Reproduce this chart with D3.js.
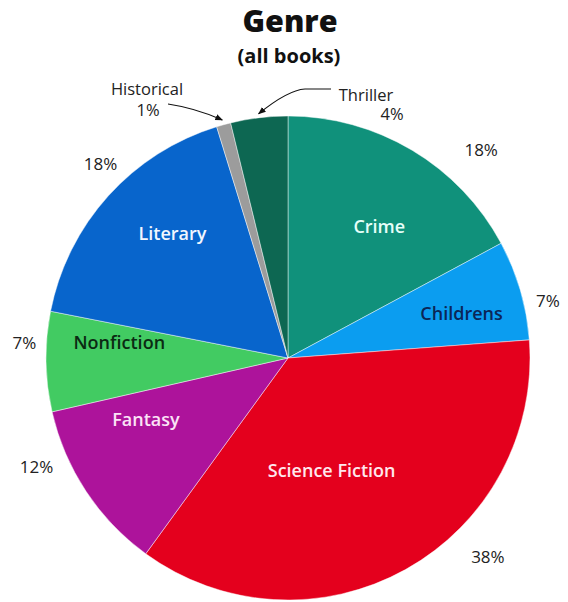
<!DOCTYPE html>
<html>
<head>
<meta charset="utf-8">
<script src="https://cdn.jsdelivr.net/npm/d3@7/dist/d3.min.js"></script>
<style>
  html, body { margin: 0; padding: 0; background: #fff; }
  svg { display: block; font-family: "Open Sans", Lato, sans-serif; }
</style>
</head>
<body>
<svg id="chart" width="568" height="602"></svg>
<script>
// Genre share of all books, clockwise from 12 o'clock
const genres = ["Crime", "Childrens", "Science Fiction", "Fantasy", "Nonfiction", "Literary", "Historical", "Thriller"];
const shares = [18, 7, 38, 12, 7, 18, 1, 4];
const colors = ["#10917b", "#0b9df0", "#e4001d", "#ad139b", "#42cb62", "#0865cc", "#9c9c9c", "#0d6752"];
const innerTextColors = ["#e6fff9", "#0b2657", "#ffe8ee", "#fbe3f6", "#0b2a12", "#f2f7ff", null, null];

const svg = d3.select("#chart");
const cx = 288, cy = 358, R = 242;

const data = genres.map((g, i) => ({ genre: g, value: shares[i], color: colors[i], textColor: innerTextColors[i] }));

const pie = d3.pie().value(d => d.value).sort(null).startAngle(0).endAngle(2 * Math.PI);
const arcs = pie(data);
const arc = d3.arc().innerRadius(0).outerRadius(R);

// Title
svg.append("text").attr("x", 290).attr("y", 32).attr("text-anchor", "middle")
  .attr("font-size", 30.5).attr("font-weight", 800).attr("fill", "#111").text("Genre");
svg.append("text").attr("x", 289).attr("y", 63).attr("text-anchor", "middle")
  .attr("font-size", 20).attr("font-weight", 700).attr("fill", "#111").text("(all books)");

const g = svg.append("g").attr("transform", `translate(${cx},${cy})`);

g.selectAll("path.slice").data(arcs).join("path")
  .attr("class", "slice")
  .attr("d", arc)
  .attr("fill", d => d.data.color)
  .attr("stroke", "rgba(255,255,255,0.45)")
  .attr("stroke-width", 1);

const polar = (angle, rad) => [rad * Math.sin(angle), -rad * Math.cos(angle)];
const mid = d => (d.startAngle + d.endAngle) / 2;
const deg = Math.PI / 180;

// Names inside the larger slices: radius fraction and angular nudge per slice
const innerPlace = { "Crime": [0.66, 4], "Childrens": [0.74, 2], "Science Fiction": [0.5, 8],
                     "Fantasy": [0.64, 10], "Nonfiction": [0.7, 6], "Literary": [0.7, 5] };
g.selectAll("text.name").data(arcs.filter(d => innerPlace[d.data.genre])).join("text")
  .attr("class", "name")
  .attr("transform", d => {
    const [f, n] = innerPlace[d.data.genre];
    const [x, y] = polar(mid(d) + n * deg, R * f);
    return `translate(${x},${y})`;
  })
  .attr("text-anchor", "middle").attr("dy", "0.35em")
  .attr("font-size", 18).attr("font-weight", 600)
  .attr("fill", d => d.data.textColor)
  .text(d => d.data.genre);

// Percentages around the rim
const outerPlace = { "Crime": [284, 12], "Childrens": [266, 4], "Science Fiction": [282, -16],
                     "Fantasy": [274, 10], "Nonfiction": [264, 4], "Literary": [270, 4] };
g.selectAll("text.pct").data(arcs.filter(d => outerPlace[d.data.genre])).join("text")
  .attr("class", "pct")
  .attr("transform", d => {
    const [rad, n] = outerPlace[d.data.genre];
    const [x, y] = polar(mid(d) + n * deg, rad);
    return `translate(${x},${y})`;
  })
  .attr("text-anchor", "middle").attr("dy", "0.35em")
  .attr("font-size", 17).attr("font-weight", 400).attr("fill", "#222")
  .text(d => d.data.value + "%");

// Callouts for the two thin slices
const defs = svg.append("defs");
defs.append("marker").attr("id", "head").attr("viewBox", "0 0 10 10")
  .attr("refX", 9).attr("refY", 5).attr("markerWidth", 7).attr("markerHeight", 7)
  .attr("orient", "auto-start-reverse")
  .append("path").attr("d", "M0,1 L10,5 L0,9 Z").attr("fill", "#111");

const hist = arcs.find(d => d.data.genre === "Historical");
const thr = arcs.find(d => d.data.genre === "Thriller");
const [hx, hy] = polar(mid(hist), R + 5);
const [tx, ty] = polar(mid(thr), R + 4);

const ann = svg.append("g").attr("font-size", 16.5).attr("fill", "#222");
ann.append("text").attr("x", 147).attr("y", 95).attr("text-anchor", "middle").text("Historical");
ann.append("text").attr("x", 148).attr("y", 116).attr("text-anchor", "middle").text(hist.data.value + "%");
ann.append("text").attr("x", 366).attr("y", 101).attr("text-anchor", "middle").text("Thriller");
ann.append("text").attr("x", 392).attr("y", 120).attr("text-anchor", "middle").text(thr.data.value + "%");

svg.append("path")
  .attr("d", `M168,104 Q195,108 ${cx + hx},${cy + hy}`)
  .attr("fill", "none").attr("stroke", "#111").attr("stroke-width", 1.1)
  .attr("marker-end", "url(#head)");
svg.append("path")
  .attr("d", `M331,89 L305,89 Q288,90 ${cx + tx},${cy + ty}`)
  .attr("fill", "none").attr("stroke", "#111").attr("stroke-width", 1.1)
  .attr("marker-end", "url(#head)");
</script>
</body>
</html>
